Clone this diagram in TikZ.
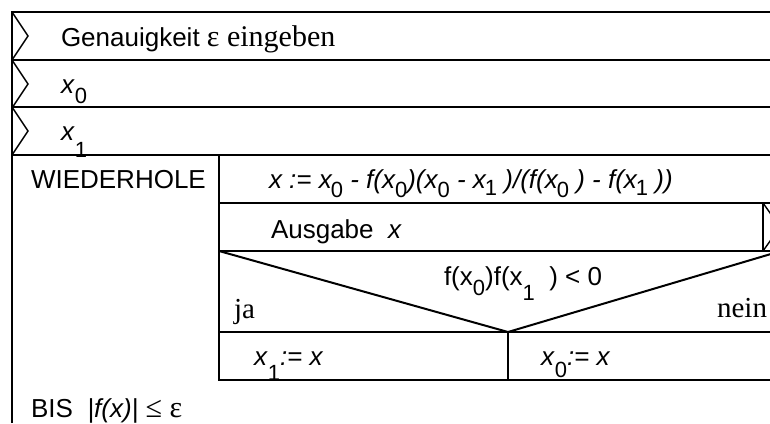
\documentclass[tikz,border=0pt]{standalone}
\usepackage{fontspec}
\setmainfont{Liberation Sans}
\newfontfamily\tms{Liberation Serif}
\usetikzlibrary{positioning}
\newcommand{\dsub}[2][10pt]{\raisebox{-#1}{\fontsize{22}{22}\selectfont\upshape #2}}

\begin{document}
\begin{tikzpicture}[x=1pt,y=-1pt,line width=2pt,
 txt/.style={anchor=base west,inner sep=0pt,font=\fontsize{26}{30}\selectfont},
 ser/.style={txt,font=\fontsize{29}{30}\selectfont\tms},
 io/.style={line width=1.4pt}]
\clip (0,0) rectangle (770,423);
\draw (12,423) -- (12,12) -- (800,12);
\foreach \y in {60,107,155} \draw (12,\y) -- (800,\y);
\foreach \y in {12,60,107} \draw[io] (12,\y) -- (28,\y+24) -- (12,\y+48);
\draw (219,155) -- (219,380) -- (800,380);
\foreach \y in {203,251,332} \draw (219,\y) -- (800,\y);
\draw (219,251) -- (508,332) -- (781,251);
\draw (508,332) -- (508,380);
\draw (763,203) -- (763,251);
\draw[io] (763,203) -- (780,227) -- (763,251);
\node[txt] (eps) at (60,46) {Genauigkeit {\fontsize{30}{30}\selectfont\tms ε eingeben}};
\node[txt] (xa) at (60,93) {\textit{x}\dsub{0}};
\node[txt] (xb) at (60,140) {\textit{x}\dsub[17pt]{1}};
\node[txt] (rep) at (30,188) {WIEDERHOLE};
\node[txt] (calc) at (268,188) {\itshape x := x\kern-1pt\dsub[9pt]{0} - f(x\dsub[9pt]{0})(x\dsub[9pt]{0} - x\kern-1pt\dsub[7pt]{1} )/(f(x\kern-1pt\dsub[9pt]{0} ) - f(x\kern-1pt\dsub[7pt]{1} ))};
\node[txt] (out) at (270,238) {Ausgabe \ \textit{x}};
\node[txt] (cond) at (443,285) {f(x\dsub{0})f(x\dsub[15pt]{1}\ \ ) < 0};
\node[ser] (ja) at (233,318) {ja};
\node[ser,anchor=base east] (nein) at (768,317) {nein};
\node[txt] (then) at (253,365) {\textit{x}\dsub[15pt]{1}\textit{:= x}};
\node[txt] (else) at (540,365) {\textit{x}\dsub[12pt]{0}\textit{:= x}};
\node[txt] (until) at (30,417) {BIS \ \textit{|f(x)|} {\fontsize{30}{30}\selectfont\tms ≤ ε}};
\end{tikzpicture}
\end{document}
